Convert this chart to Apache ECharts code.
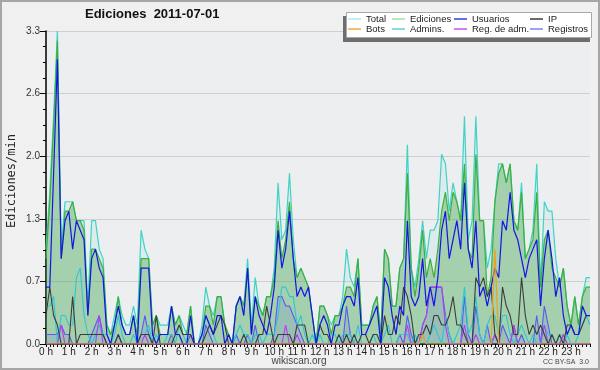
<!DOCTYPE html>
<html>
<head>
<meta charset="utf-8">
<script src="https://cdn.jsdelivr.net/npm/echarts@6/dist/echarts.min.js"></script>
<style>
html,body{margin:0;padding:0;background:#f0f0f0;}
#chart{width:600px;height:370px;}
</style>
</head>
<body>
<div id="chart"></div>
<script>
const hourLabels = ['0 h','1 h','2 h','3 h','4 h','5 h','6 h','7 h','8 h','9 h','10 h','11 h',
  '12 h','13 h','14 h','15 h','16 h','17 h','18 h','19 h','20 h','21 h','22 h','23 h'];
const minuteSlots = ['00','10','20','30','40','50'];
const yTickLabels = ['0.0','0.7','1.3','2.0','2.6','3.3'];

const total = [
1.0,1.6,2.4,3.3,1.0,1.5,1.5,1.5,1.3,1.3,
1.3,0.4,1.3,1.3,1.0,0.9,0.2,0.1,0.3,0.5,
0.3,0.2,0.2,0.4,0.2,1.2,1.0,0.9,0.2,0.3,
0.2,0.2,0.2,0.4,0.2,0.3,0.2,0.1,0.4,0,
0,0.2,0.6,0.4,0.3,0.5,0.5,0.2,0.1,0,
0.4,0.5,0.4,0.9,0.2,0.7,0.4,0.3,0.5,0.5,
0.8,1.7,1.1,1.2,1.8,1.1,0.7,0.8,0.7,0.6,
0.3,0,0.4,0.4,0.3,0.2,0.3,0.3,0.5,1.0,
0.7,0.6,0.9,0.2,0.2,0.2,0.4,0.5,0.1,1.0,
0.9,0.4,0.4,0.8,0.9,2.1,0.8,0.6,0.9,1.3,
0.9,1.2,1.2,1.3,2.0,1.9,1.4,1.7,1.5,1.3,
2.4,1.1,1.3,2.4,1.3,1.3,0.8,1.0,1.5,1.9,
1.9,1.7,1.9,1.3,1.2,1.7,0.9,1.0,1.2,1.9,
0.6,1.5,1.4,1.4,0.9,0.6,0.8,0.4,0.2,0.5,
0.2,0.5,0.7,0.7];

const ediciones = [
0.9,1.5,2.3,3.2,0.9,1.4,1.4,1.5,1.3,1.3,
1.2,0.3,1.0,1.0,0.9,0.8,0.2,0.1,0.2,0.5,
0.2,0.1,0.1,0.3,0.1,0.9,0.9,0.9,0.2,0.3,
0.1,0.1,0.1,0.4,0.2,0.3,0.1,0.1,0.4,0,
0,0.1,0.4,0.4,0.2,0.5,0.5,0.2,0.1,0,
0.4,0.5,0.4,0.8,0.1,0.5,0.4,0.3,0.5,0.5,
0.7,1.3,0.9,1.1,1.5,0.9,0.7,0.8,0.7,0.6,
0.3,0,0.4,0.4,0.3,0.1,0.3,0.3,0.4,0.6,
0.6,0.5,0.9,0.2,0.2,0.2,0.4,0.5,0.1,1.0,
0.9,0.4,0.4,0.8,0.9,1.8,0.8,0.5,0.8,1.2,
0.7,0.9,0.7,1.0,1.4,1.6,1.3,1.6,1.5,1.3,
1.9,1.0,0.9,2.0,1.3,1.3,0.5,0.7,1.5,1.8,
1.9,1.7,1.9,1.3,1.2,1.6,0.9,1.0,1.1,1.6,
0.6,1.1,1.2,0.8,0.7,0.6,0.8,0.4,0.2,0.5,
0.2,0.5,0.6,0.6];

const usuarios = [
0.6,0.6,1.8,3.0,0.9,1.3,1.4,1.0,1.3,1.2,
1.1,0.3,0.9,1.0,0.8,0.7,0.1,0,0.2,0.4,
0.2,0.1,0.1,0.3,0,0.8,0.8,0.8,0.1,0,
0.1,0.1,0.1,0.4,0.1,0.1,0,0,0.3,0,
0,0.1,0.3,0.2,0.1,0.3,0.3,0,0.1,0,
0.4,0.5,0.3,0.8,0.1,0.5,0.3,0.2,0.1,0.3,
0.6,1.2,0.8,1.0,1.4,0.9,0.5,0.6,0.5,0.6,
0.3,0,0.2,0.3,0.2,0,0.2,0.2,0.4,0.5,
0.5,0.4,0.7,0.1,0.1,0.2,0.3,0.4,0,0.7,
0.6,0.3,0.1,0.4,0.3,1.3,0.5,0.4,0.5,0.9,
0.4,0.6,0.4,0.7,1.2,1.4,0.9,1.1,1.3,1.0,
1.7,1.0,0.8,1.3,0.5,0.6,0.4,0.6,0.8,0.7,
1.3,1.2,1.6,1.2,1.1,0.9,0.7,0.9,1.0,1.1,
0.4,0.9,1.2,0.9,0.5,0.7,0.3,0.1,0.2,0.1,
0.1,0.4,0.3,0.3];

const ip = [
0.3,0.6,0.3,0.2,0,0,0,0.5,0,0.1,
0.1,0.1,0.1,0.1,0.1,0.1,0,0,0,0.1,
0,0,0,0,0,0.1,0.1,0.1,0,0.3,
0,0,0,0,0.1,0.2,0.1,0.1,0.1,0,
0,0,0.1,0.2,0.1,0.2,0.3,0.2,0,0,
0,0,0.1,0,0,0,0.1,0.1,0.4,0.2,
0,0.1,0.1,0.1,0.1,0,0.2,0.2,0.2,0,
0,0,0.2,0.1,0.1,0,0,0.1,0,0.1,
0,0.1,0,0.1,0.1,0,0.1,0.1,0,0.3,
0.1,0.1,0.3,0.2,0.6,0.5,0.3,0,0.1,0.1,
0.2,0.1,0.3,0.3,0.2,0.2,0.3,0.5,0.2,0.2,
0.1,0,0,0.7,0.6,0.7,0.5,0.6,0.1,0,
0.6,0.4,0.3,0.1,0.1,0.7,0.3,0.1,0.2,0.1,
0.2,0.1,0,0.1,0,0.1,0,0.2,0.2,0.1,
0.1,0.2,0.3,0.3];

const bots = [
0,0,0,0,0,0,0,0,0,0,0,0,
0,0,0,0,0,0,0,0,0,0,0,0,
0,0,0,0,0,0,0,0,0,0,0,0,
0,0,0,0,0,0,0,0,0,0,0,0,
0,0,0,0,0,0,0,0,0,0,0,0,
0,0,0,0,0,0,0,0,0,0,0,0,
0,0,0,0,0,0,0,0,0,0,0,0,
0,0,0,0,0,0,0,0,0,0,0,0,
0,0,0,0.1,0,0,0,0,0,0,0,0,
0,0,0,0,0,0,0,0,0,0,1.0,0,
0,0,0,0,0,0,0,0,0,0,0,0,
0,0,0,0,0,0,0,0,0,0,0,0];

const admins = [
0.4,0.4,0.5,0,0.3,0.3,0.2,0.2,0.7,0.8,
0.3,0.1,0,0.1,0.2,0.1,0.1,0,0.1,0.3,
0.1,0,0,0.1,0,0.1,0.1,0.2,0,0.1,
0,0,0.1,0.1,0,0.2,0.1,0,0,0,
0,0.1,0.3,0.2,0.1,0,0,0,0,0,
0.1,0.2,0.1,0.1,0,0.1,0.1,0,0.1,0.1,
0.1,0.3,0.6,0.6,0.5,0.5,0.2,0.3,0.1,0,
0.1,0,0.1,0,0,0.1,0.1,0,0.1,0.1,
0.1,0,0.2,0,0,0,0.1,0,0,0.1,
0.2,0,0,0.1,0.1,0.1,0,0.1,0,0.1,
0,0.1,0.2,0.1,0,0.3,0.1,0,0.1,0.2,
0.6,0.1,0.2,0.5,0.1,0,0.2,0.3,0.3,0.1,
0.3,0.3,0.1,0,0.1,0.2,0.1,0,0.1,0,
0,0.2,0.1,0.1,0,0.1,0,0.1,0,0,
0.1,0.2,0.3,0.2];

const regAdm = [
0,0,0,0,0.2,0,0,0,0,0,0,0,
0,0,0.3,0,0,0,0,0,0,0,0,0,
0,0,0.1,0,0,0,0,0,0,0,0,0,
0,0,0,0,0,0,0,0,0,0,0,0,
0,0,0,0,0,0,0,0,0,0,0,0,
0,0,0,0.2,0,0,0.1,0,0,0,0,0,
0,0,0,0,0,0,0,0,0,0,0,0,
0,0,0,0,0,0,0,0,0,0,0,0.2,
0,0,0,0.2,0.3,0.6,0.6,0.6,0.6,0.2,0,0,
0,0,0.2,0,0,0.1,0,0,0,0,0.1,0,
0,0,0,0.2,0,0,0,0,0,0,0,0.2,
0,0,0,0,0.1,0,0,0,0,0,0,0];

const registros = [
0.1,0.1,0.1,0.1,0.2,0.1,0.1,0,0,0,0,0,
0.1,0.2,0.3,0.1,0,0,0,0.1,0,0,0,0,
0,0.1,0.3,0.1,0,0,0,0,0,0.1,0,0,
0,0,0.1,0,0,0,0.2,0.1,0,0,0,0,
0,0,0.1,0,0,0.1,0,0.2,0,0,0,0,
0.1,0.5,0.5,0.4,0.4,0.3,0.2,0.1,0,0,0,0,
0,0,0,0,0,0,0,0.4,0.1,0,0,0,
0,0,0,0,0,0,0,0,0,0.1,0,0.3,
0.1,0,0,0.2,0.3,0.6,0.6,0.6,0.6,0.3,0.1,0,
0,0,0.5,0.1,0,0.4,0.1,0,0.2,0,0.1,0,
0.2,0.1,0,0.2,0,0.1,0,0,0,0.3,0,0.4,
0.2,0,0,0,0.1,0,0,0,0,0,0,0];

const categories = [];
hourLabels.forEach(function (h, hi) {
  minuteSlots.forEach(function (m) { categories.push(hi + ':' + m); });
});

const FONT = 'Liberation Sans';
const chart = echarts.init(document.getElementById('chart'), null, {renderer: 'canvas'});

const lineSeries = function (name, data, color, width, z, extra) {
  return Object.assign({
    name: name, type: 'line', data: data, symbol: 'none', showSymbol: false,
    silent: true, z: z,
    lineStyle: {color: color, width: width},
    itemStyle: {color: color}
  }, extra || {});
};

const legendCommon = {
  orient: 'vertical', padding: 0, itemWidth: 13, itemHeight: 1.5, itemGap: 0,
  itemTextGap: 3, icon: 'rect', selectedMode: false, top: 14, z: 30,
  textStyle: {fontSize: 9.5, fontFamily: FONT, color: '#222', lineHeight: 10, padding: 0}
};

const option = {
  animation: false,
  backgroundColor: '#f0f0f0',
  title: {
    text: 'Ediciones  2011-07-01', left: 85, top: 8, padding: 0,
    textStyle: {fontSize: 13, fontWeight: 'bold', fontFamily: FONT, color: '#111'}
  },
  legend: [
    Object.assign({left: 348, data: [
      {name: 'Total', itemStyle: {color: '#b4e8e6'}},
      {name: 'Bots', itemStyle: {color: '#f4a640'}}]}, legendCommon),
    Object.assign({left: 392, data: [
      {name: 'Ediciones', itemStyle: {color: '#a2dca2'}},
      {name: 'Admins.', itemStyle: {color: '#5ccfe0'}}]}, legendCommon),
    Object.assign({left: 454, data: [
      {name: 'Usuarios', itemStyle: {color: '#3a3ae6'}},
      {name: 'Reg. de adm.', itemStyle: {color: '#d050e6'}}]}, legendCommon),
    Object.assign({left: 530, data: [
      {name: 'IP', itemStyle: {color: '#3a3a3a'}},
      {name: 'Registros', itemStyle: {color: '#8080f0'}}]}, legendCommon)
  ],
  grid: {
    left: 46, right: 10, top: 31, bottom: 26, show: true,
    backgroundColor: '#eceef0', borderWidth: 0
  },
  xAxis: {
    type: 'category', data: categories, boundaryGap: false,
    axisLine: {lineStyle: {color: '#000', width: 1.5}},
    axisTick: {show: true, interval: 0, length: 3, lineStyle: {color: '#000', width: 1}},
    axisLabel: {
      interval: 5, margin: 3, fontSize: 10, fontFamily: FONT, color: '#222',
      formatter: function (v, idx) { return hourLabels[Math.round(idx / minuteSlots.length)] || ''; }
    },
    splitLine: {show: false}
  },
  yAxis: {
    type: 'value', min: 0, max: 3.3, interval: 0.66,
    axisLine: {show: true, lineStyle: {color: '#000', width: 1.5}},
    axisTick: {show: true, length: 6, lineStyle: {color: '#000'}},
    minorTick: {show: true, splitNumber: 4, length: 3, lineStyle: {color: '#000'}},
    axisLabel: {
      margin: 6, fontSize: 10, fontFamily: FONT, color: '#333',
      formatter: function (v) { return yTickLabels[Math.round(v / 0.66)]; }
    },
    splitLine: {show: true, lineStyle: {color: '#cfcfcf', width: 1}}
  },
  series: [
    lineSeries('Total', total, '#3fd3c6', 1.2, 2, {areaStyle: {color: 'rgba(64,212,200,0.12)'}}),
    lineSeries('Ediciones', ediciones, '#3cb03c', 1.2, 3, {areaStyle: {color: 'rgba(60,160,60,0.5)'}}),
    lineSeries('Registros', registros, '#5a5af0', 1.1, 4, {areaStyle: {color: 'rgba(90,90,240,0.2)'}}),
    lineSeries('Admins.', admins, '#2ec6d6', 1.1, 5),
    lineSeries('Reg. de adm.', regAdm, '#b83ef0', 1.1, 6),
    lineSeries('IP', ip, '#3c3c3c', 1.1, 7),
    lineSeries('Usuarios', usuarios, '#1414e6', 1.2, 8),
    lineSeries('Bots', bots, '#f0a020', 1.2, 9)
  ],
  graphic: {elements: [
    {type: 'rect', z: 15, shape: {x: 343, y: 16, width: 247, height: 26}, style: {fill: '#6e6e6e'}},
    {type: 'rect', z: 16, shape: {x: 346.5, y: 12.5, width: 245, height: 25}, style: {fill: '#ffffff', stroke: '#a8a8a8', lineWidth: 1}},
    {type: 'text', z: 16, x: 12, y: 181, rotation: Math.PI / 2,
      style: {text: 'Ediciones/min', fontSize: 12, fontFamily: 'DejaVu Sans Mono', fill: '#222', align: 'center', verticalAlign: 'middle'}},
    {type: 'text', z: 16, x: 299, y: 361,
      style: {text: 'wikiscan.org', fontSize: 10, fontFamily: FONT, fill: '#444', align: 'center', verticalAlign: 'middle'}},
    {type: 'text', z: 16, x: 589, y: 362,
      style: {text: 'CC BY-SA  3.0', fontSize: 7, fontFamily: FONT, fill: '#444', align: 'right', verticalAlign: 'middle'}},
    {type: 'rect', z: 40, shape: {x: 1, y: 1, width: 598, height: 368}, style: {fill: 'none', stroke: '#a6a6a6', lineWidth: 2}}
  ]}
};
chart.setOption(option);
</script>
</body>
</html>
